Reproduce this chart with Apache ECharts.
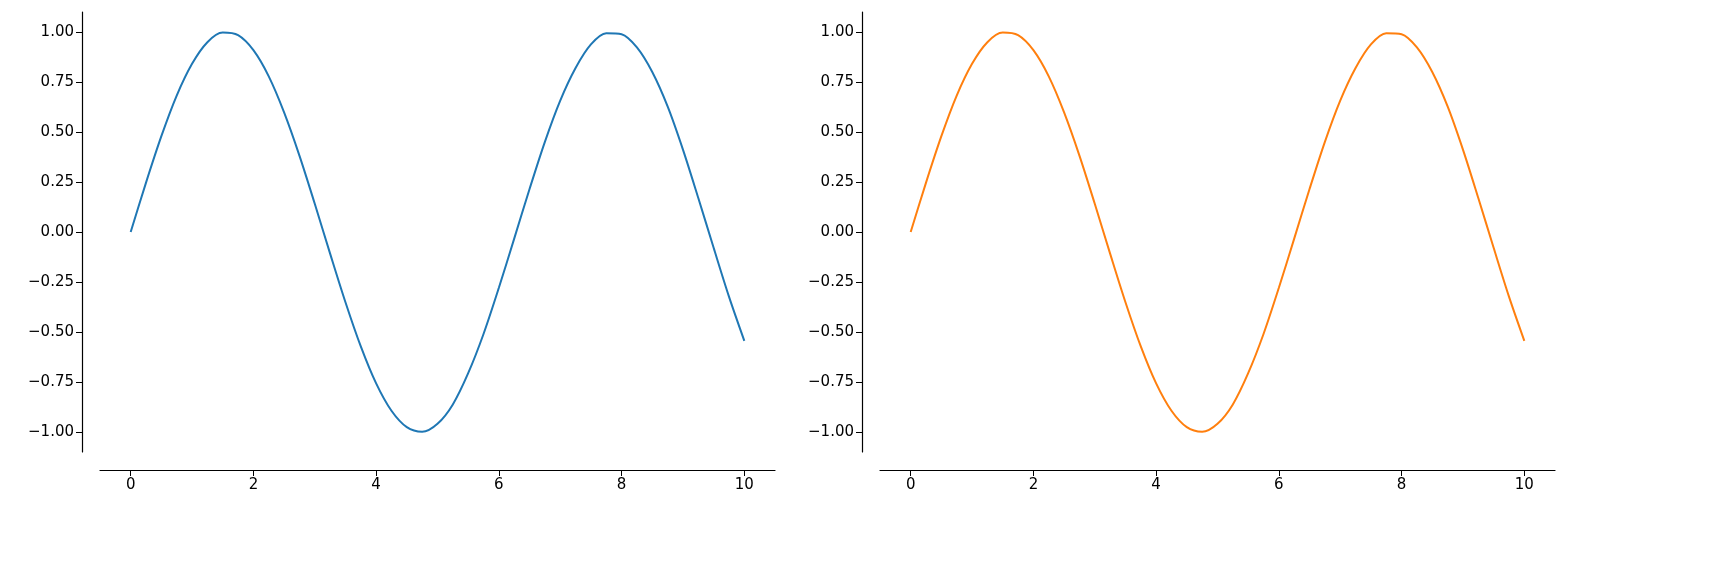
<!DOCTYPE html>
<html>
<head>
<meta charset="utf-8">
<script src="https://cdn.jsdelivr.net/npm/echarts@6/dist/echarts.min.js"></script>
<style>html,body{margin:0;padding:0;background:#fff}#c{width:1713px;height:561px}</style>
</head>
<body>
<div id="c"></div>
<script>
// values, x step 0.25
var xs = [];
for (var i = 0; i <= 40; i++) xs.push(i * 0.25);
var ys = [0, 0.247, 0.479, 0.682, 0.841, 0.949, 0.997, 0.984, 0.909, 0.778, 0.598, 0.382, 0.141,
  -0.108, -0.351, -0.572, -0.757, -0.894, -0.976, -0.999, -0.959, -0.862, -0.706, -0.510, -0.279,
  -0.033, 0.215, 0.451, 0.657, 0.820, 0.938, 0.994, 0.989, 0.923, 0.800, 0.628, 0.412, 0.170,
  -0.079, -0.323, -0.544];
var xTicks = [0, 2, 4, 6, 8, 10];
var yTicks = [-1, -0.75, -0.5, -0.25, 0, 0.25, 0.5, 0.75, 1];
var colors = ['#1f77b4', '#ff7f0e'];

var pts = xs.map(function (x, i) { return [x, ys[i]]; });
var font = { color: '#000', fontSize: 15, fontFamily: 'DejaVu Sans' };
var line = { show: true, onZero: false, lineStyle: { color: '#000', width: 1.2 } };

function xAxis(g) {
  return {
    gridIndex: g, type: 'value', position: 'bottom', min: -0.5, max: 10.5, offset: 18,
    axisLine: line, splitLine: { show: false },
    axisTick: { show: true, inside: false, customValues: xTicks, length: 6, lineStyle: { color: '#000' } },
    axisLabel: Object.assign({ customValues: xTicks, margin: 8 }, font)
  };
}
function yAxis(g) {
  return {
    gridIndex: g, type: 'value', position: 'left', min: -1.1, max: 1.1, offset: 18,
    axisLine: line, splitLine: { show: false },
    axisTick: { show: true, inside: false, customValues: yTicks, length: 6, lineStyle: { color: '#000' } },
    axisLabel: Object.assign({
      customValues: yTicks, margin: 8,
      formatter: function (v) { return v.toFixed(2).replace('-', '\u2212'); }
    }, font)
  };
}

var chart = echarts.init(document.getElementById('c'));
chart.setOption({
  animation: false,
  grid: [
    { left: 100, top: 12, width: 675, height: 440 },
    { left: 880, top: 12, width: 675, height: 440 }
  ],
  xAxis: [xAxis(0), xAxis(1)],
  yAxis: [yAxis(0), yAxis(1)],
  series: [0, 1].map(function (g) {
    return {
      type: 'line', xAxisIndex: g, yAxisIndex: g, data: pts, smooth: 0.3,
      showSymbol: false, lineStyle: { color: colors[g], width: 2 }
    };
  })
});
</script>
</body>
</html>
